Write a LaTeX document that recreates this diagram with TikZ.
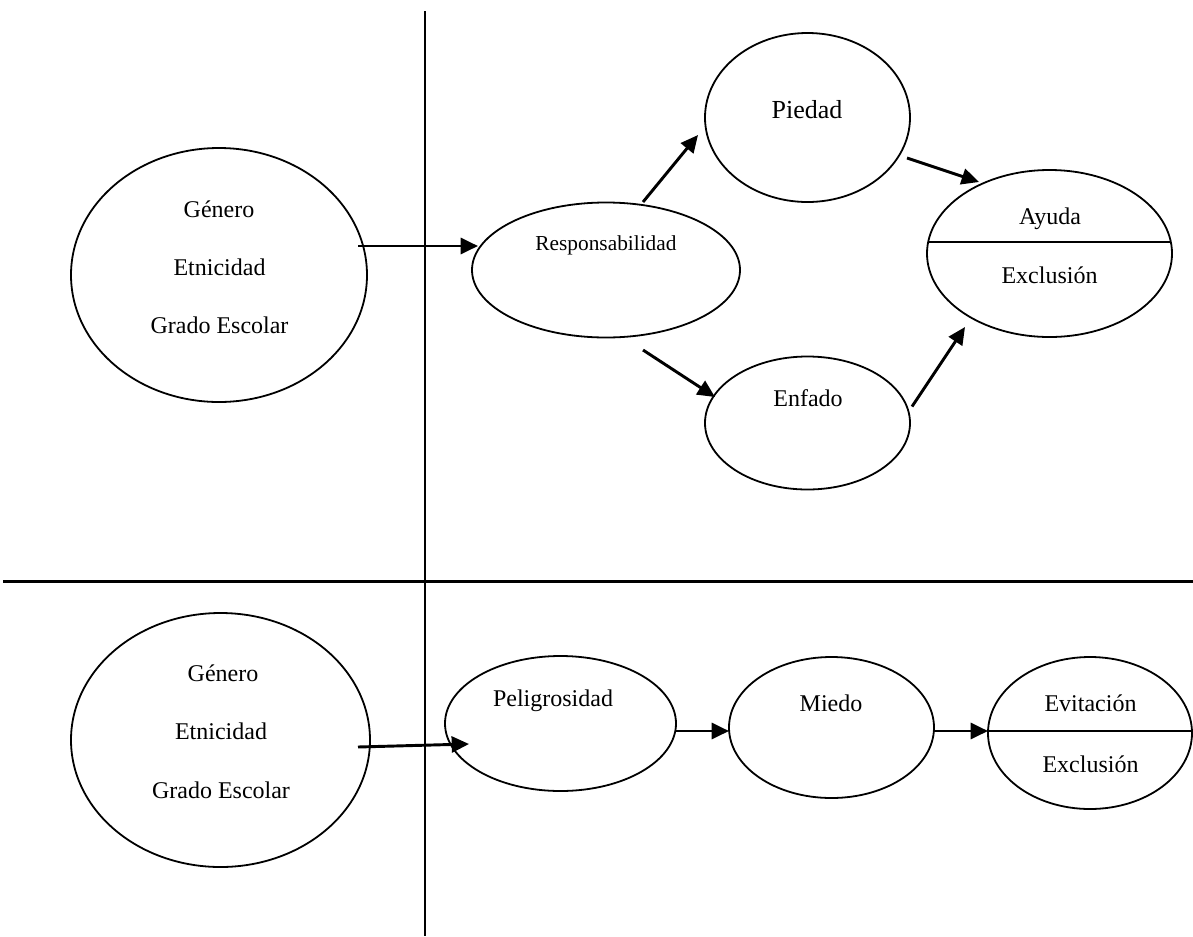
\documentclass[tikz,border=0pt]{standalone}
\usepackage{fontspec}
\setmainfont{Liberation Serif}
\usetikzlibrary{shapes.geometric,arrows.meta,calc}

\tikzset{
  ell/.style 2 args={ellipse, draw, line width=1.35pt,
    minimum width=#1*1.5pt, minimum height=#2*1.5pt,
    inner sep=0pt, outer sep=0pt},
  txt/.style={inner sep=0pt, text height=0.66em, text depth=0pt, yshift=-3pt,
    font=\fontsize{18}{22}\selectfont},
  arr/.style={-{Triangle[length=13pt,width=12pt]}, line width=2.2pt},
  rule/.style={line width=1.7pt},
  split/.style={line width=1.35pt}
}

\begin{document}
\begin{tikzpicture}[x=0.75pt,y=-0.75pt]
\useasboundingbox (0,0) rectangle (1193,936);

% quadrant rules
\coordinate (vtop) at (425,11);
\coordinate (vbot) at (425,936);
\coordinate (hleft) at (3,581.5);
\coordinate (hright) at (1193,581.5);
\draw[rule] (vtop) -- (vbot);
\draw[rule] (hleft) -- (hright);

% ---- upper model: responsibility path ----
\node[ell={148}{127}] (g1) at (219,275) {};
\node[txt] (g1a) at (219,209) {Género};
\node[txt] (g1b) at (219.5,267.5) {Etnicidad};
\node[txt] (g1c) at (219.5,325.5) {Grado Escolar};

\node[ell={134}{67.5}] (resp) at (606,270) {};
\node[txt,font=\fontsize{16}{19}\selectfont] (respt) at (606,242.5) {Responsabilidad};

\node[ell={102.5}{84.5}] (pied) at (807.5,117.5) {};
\node[txt,font=\fontsize{19.5}{23}\selectfont] (piedt) at (807,110.5) {Piedad};

\node[ell={102.5}{66.5}] (enf) at (807.5,423) {};
\node[txt] (enft) at (808,398.5) {Enfado};

\node[ell={122.5}{83.5}] (ayu) at (1049.5,253.5) {};
\draw[split] ($(ayu.center)+(-121.3,-11.8)$) -- ($(ayu.center)+(121.3,-11.8)$);
\node[txt] (ayut) at (1050,216) {Ayuda};
\node[txt] (exc1) at (1049.5,275) {Exclusión};

\draw[arr] ($(g1.center)+(139,-29)$) -- ($(resp.center)+(-128,-24)$);
\draw[arr] ($(resp.center)+(37,-68)$) -- ($(pied.center)+(-109.5,17.5)$);
\draw[arr] ($(pied.center)+(99.5,40.5)$) -- ($(ayu.center)+(-70.5,-71.5)$);
\draw[arr] ($(resp.center)+(37,80)$) -- ($(enf.center)+(-92.5,-26)$);
\draw[arr] ($(enf.center)+(104.5,-16.5)$) -- ($(ayu.center)+(-84.5,73.5)$);

% ---- lower model: dangerousness path ----
\node[ell={149.5}{127}] (g2) at (220.5,740) {};
\node[txt] (g2a) at (223,673) {Género};
\node[txt] (g2b) at (221,731) {Etnicidad};
\node[txt] (g2c) at (221,790.5) {Grado Escolar};

\node[ell={115.5}{67.5}] (pel) at (560.5,723.5) {};
\node[txt] (pelt) at (553,698) {Peligrosidad};

\node[ell={102.5}{70.5}] (mie) at (831.5,727.5) {};
\node[txt] (miet) at (831,703) {Miedo};

\node[ell={102}{76}] (evi) at (1090,733) {};
\draw[split] ($(evi.center)+(-101.9,-2)$) -- ($(evi.center)+(101.9,-2)$);
\node[txt] (evit) at (1090.5,703) {Evitación};
\node[txt] (exc2) at (1090.5,764) {Exclusión};

\draw[arr] ($(g2.center)+(137.5,7)$) -- ($(pel.center)+(-91.5,20.5)$);
\draw[arr] ($(pel.center)+(115.5,7.5)$) -- ($(mie.center)+(-102.5,3.5)$);
\draw[arr] ($(mie.center)+(102.5,3.5)$) -- ($(evi.center)+(-102,-2)$);
\end{tikzpicture}
\end{document}
